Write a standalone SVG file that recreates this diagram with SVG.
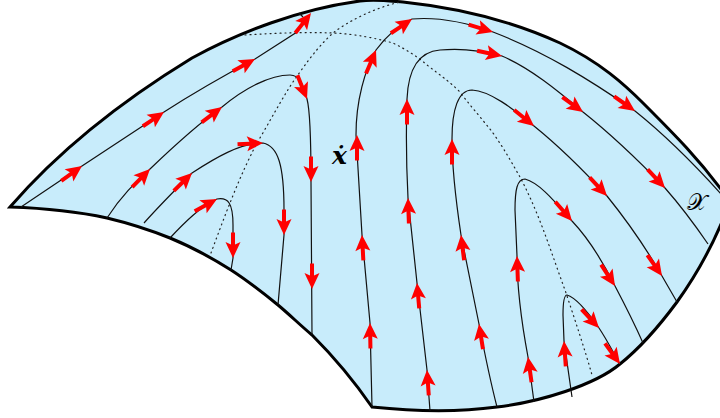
<svg xmlns="http://www.w3.org/2000/svg" width="720" height="418" viewBox="0 0 720 418">
<style>
.bd{fill:#c8ecfb;stroke:#000;stroke-width:3;stroke-linejoin:miter}
.fl{fill:none;stroke:#111;stroke-width:1.2}
.dt{fill:none;stroke:#222;stroke-width:1.2;stroke-dasharray:1 4;stroke-linecap:round}
.lb{font-family:"DejaVu Serif","Liberation Serif",serif;fill:#000}
</style>
<defs>
<path id="a" fill="#ff0000" d="M0 0L-16 -7.5L-13.5 -2L-25.5 -2L-25.5 2L-13.5 2L-16 7.5Z"/>
</defs>
<g id="surface">
<path class="bd" d="M10 207C55 155 115 105 192 58C240 32 300 9 360 1C375 -1 390 1 403 2C460 8 510 20 560 43C600 62 625 85 643 103C675 135 700 160 726 196L726 212C715 240 700 270 677 302C660 325 640 348 620 364C595 385 540 402 497 407C460 412 420 412 372 407C352 378 335 358 312 335C300 325 290 315 278 305C262 292 248 281 231 270C212 258 192 247 170 238C150 230 128 223 107 218C75 211 40 208 10 207Z"/>
</g>
<g id="dotted">
<path class="dt" d="M211 253C225 215 240 175 257 143C272 118 285 92 300 72C312 55 322 43 333 33C350 20 375 8 400 2"/>
<path class="dt" d="M245 35C275 33 305 32 333 33C355 34 375 38 393 43C407 50 418 57 427 65C440 75 450 82 460 92C472 108 483 120 493 133C505 150 513 165 520 177C540 215 552 255 565 290C575 320 585 350 592 375"/>
</g>
<g id="connectors">
<path class="fl" d="M21 207L82 166L164 112C195 92 225 75 255 59L297 32L306 20M299 13L303 17"/>
<path class="fl" d="M107 218C122 195 135 183 150 169C175 145 198 124 222 107C245 88 270 75 290 75C300 75 303 85 307 99C310 110 311 140 311 182L312 335"/>
<path class="fl" d="M144 223C160 205 175 190 192 173C215 158 240 143 263 143C278 146 284 165 284 210L284 235L278 305"/>
<path class="fl" d="M170 238C185 222 200 207 217 199C228 197 233 203 233 225L233 258L231 270"/>
<path class="fl" d="M372 407L370 323L362 235L356 135C356 100 365 70 376 50C385 38 395 27 412 19C435 17 465 22 493 32C545 52 590 80 635 111C665 135 695 165 722 195"/>
<path class="fl" d="M430 411L427 370L417 283L408 198C406 160 406 130 407 99C408 75 415 52 440 50C460 48 480 50 502 56C530 68 557 90 583 112C612 135 640 162 665 188C680 205 695 225 708 244"/>
<path class="fl" d="M497 407C490 380 484 350 479 324L461 235C455 195 452 165 452 139C452 110 458 90 472 90C490 91 512 108 534 126C560 147 585 172 607 196C628 222 646 248 662 276L677 302"/>
<path class="fl" d="M534 402L528 357C522 325 517 290 517 256L515 210C515 190 517 179 525 179C540 183 556 203 572 221C590 240 603 262 615 286C625 305 635 325 643 343"/>
<path class="fl" d="M572 397L564 341L563 315C563 302 564 295 567 295C577 298 590 315 599 328C607 340 613 352 620 364"/>
</g>
<g id="arrows">
<use href="#a" transform="translate(82 166) rotate(-35.6)"/>
<use href="#a" transform="translate(164 112) rotate(-34)"/>
<use href="#a" transform="translate(255 59) rotate(-29)"/>
<use href="#a" transform="translate(311 13) rotate(-52)"/>
<use href="#a" transform="translate(150 169) rotate(-45.5)"/>
<use href="#a" transform="translate(222 107) rotate(-37)"/>
<use href="#a" transform="translate(307 99) rotate(68)"/>
<use href="#a" transform="translate(311 182) rotate(90)"/>
<use href="#a" transform="translate(312 289) rotate(90)"/>
<use href="#a" transform="translate(192 173) rotate(-44.5)"/>
<use href="#a" transform="translate(263 143) rotate(-3)"/>
<use href="#a" transform="translate(284 235) rotate(90)"/>
<use href="#a" transform="translate(217 199) rotate(-29)"/>
<use href="#a" transform="translate(233 258) rotate(90)"/>
<use href="#a" transform="translate(370 323) rotate(-91)"/>
<use href="#a" transform="translate(362 235) rotate(-93)"/>
<use href="#a" transform="translate(357 135) rotate(-90)"/>
<use href="#a" transform="translate(376 50) rotate(-67)"/>
<use href="#a" transform="translate(412 19) rotate(-34)"/>
<use href="#a" transform="translate(493 32) rotate(17)"/>
<use href="#a" transform="translate(635 111) rotate(35)"/>
<use href="#a" transform="translate(427 370) rotate(-94)"/>
<use href="#a" transform="translate(417 283) rotate(-95)"/>
<use href="#a" transform="translate(408 198) rotate(-92)"/>
<use href="#a" transform="translate(407 99) rotate(-90)"/>
<use href="#a" transform="translate(502 56) rotate(12)"/>
<use href="#a" transform="translate(583 112) rotate(36)"/>
<use href="#a" transform="translate(665 188) rotate(47)"/>
<use href="#a" transform="translate(479 324) rotate(-99)"/>
<use href="#a" transform="translate(461 235) rotate(-97)"/>
<use href="#a" transform="translate(452 139) rotate(-90)"/>
<use href="#a" transform="translate(534 126) rotate(39)"/>
<use href="#a" transform="translate(607 196) rotate(47)"/>
<use href="#a" transform="translate(662 276) rotate(55)"/>
<use href="#a" transform="translate(528 357) rotate(-98)"/>
<use href="#a" transform="translate(517 256) rotate(-92)"/>
<use href="#a" transform="translate(572 221) rotate(49)"/>
<use href="#a" transform="translate(615 286) rotate(57)"/>
<use href="#a" transform="translate(564 341) rotate(-94)"/>
<use href="#a" transform="translate(599 328) rotate(47)"/>
<use href="#a" transform="translate(620 364) rotate(54)"/>
</g>
<g id="labels">
<text class="lb" x="332" y="164" font-size="25" font-weight="bold" font-style="italic">ẋ</text>
<text class="lb" x="687" y="210" font-size="23">𝒳</text>
</g>
</svg>
